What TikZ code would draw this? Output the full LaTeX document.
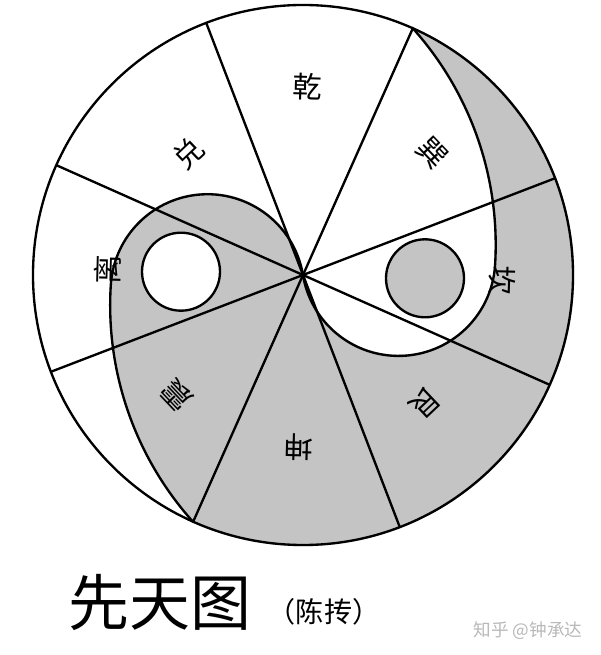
\documentclass[tikz,border=0pt]{standalone}
\usepackage{fontspec}
\newfontfamily\cjk{Noto Sans CJK SC}
\definecolor{yinshade}{gray}{0.77}
\tikzset{
    gua/.style={font=\cjk\fontsize{25}{25}\selectfont, inner sep=0pt},
    eye/.style={draw, line width=2pt}
}
\begin{document}
\begin{tikzpicture}[scale=0.03, line width=2pt]
    % Define the radii (picture units are pixels)
    \def\R{270}
    \def\rb{324.2}
    \def\rs{96.83}

    % Frame of the whole page
    \useasboundingbox (-303,-380) rectangle (297,275);
    \coordinate (O) at (0,0);

    % Gray fish: right crescent, bottom and left head
    \filldraw[yinshade] (66:\R) arc[start angle=66, end angle=-114, radius=\R]
        arc[start angle=221.9, end angle=176.4, radius=\rb]
        arc[start angle=176.4, end angle=9.5, radius=\rs]
        arc[start angle=-170.5, end angle=-3.6, radius=\rs]
        arc[start angle=-3.6, end angle=41.9, radius=\rb] -- cycle;

    % Eight spokes
    \foreach \a in {21,66,...,336}
        \draw (O) -- (\a:\R);

    % S-curve and outer circle
    \draw (66:\R)
        arc[start angle=41.9, end angle=-3.6, radius=\rb]
        arc[start angle=-3.6, end angle=-170.5, radius=\rs]
        arc[start angle=9.5, end angle=176.4, radius=\rs]
        arc[start angle=176.4, end angle=221.9, radius=\rb];
    \draw (O) circle[radius=\R];

    % Eyes
    \filldraw[eye, fill=white] (-122,3.3) circle[radius=39];
    \filldraw[eye, fill=yinshade] (122,-3.3) circle[radius=39];

    % Trigram names, tops facing outward
    \foreach \a/\r/\n/\t in {88.5/188/qian/乾, 133.5/167/dui/兑, 178.5/195/li/离,
        223.5/174/zhen/震, 268.5/172/kun/坤, 313.5/177/gen/艮,
        358.5/199/kan/坎, 43.5/178/xun/巽}
        \node[gua, rotate=\a-90] (\n) at (\a:\r) {\t};

    % Caption
    \node[font=\cjk\fontsize{52}{52}\selectfont] (title) at (-143,-327) {先天图};
    \node[font=\cjk\fontsize{24}{24}\selectfont] (author) at (21,-337) {（陈抟）};
    \node[font=\cjk\fontsize{15}{15}\selectfont, text=black!28] (mark) at (225,-356) {知乎 @钟承达};
\end{tikzpicture}
\end{document}
